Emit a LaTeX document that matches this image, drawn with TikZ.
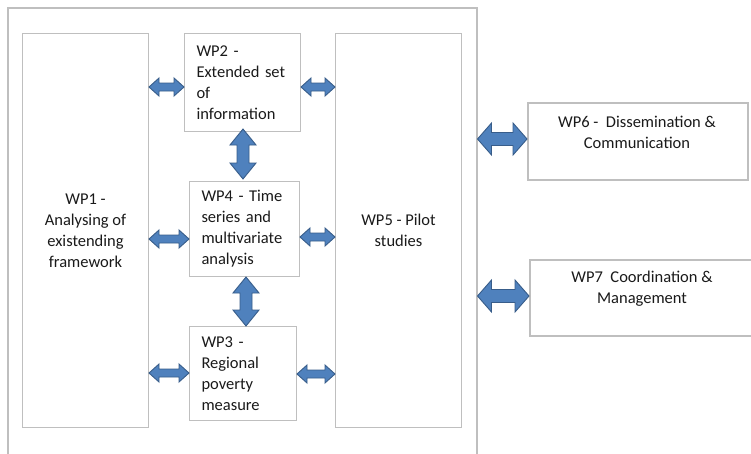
\documentclass[tikz,border=0pt]{standalone}
\usepackage{fontspec}
\setmainfont{Carlito}
\usetikzlibrary{calc}
\definecolor{arrfill}{HTML}{4F81BD}
\definecolor{arrline}{HTML}{385D8A}
\definecolor{boxline}{HTML}{BFBFBF}
\definecolor{txt}{HTML}{1A1A1A}
% horizontal double arrow: #1 left point, #2 right point, #3 head length, #4 head half-height, #5 shaft half-height
\newcommand\harr[5]{\draw[arr] let \p1=(#1), \p2=(#2) in (\x1,\y1) -- (\x1+#3,\y1+#4) -- (\x1+#3,\y1+#5) -- (\x2-#3,\y2+#5) -- (\x2-#3,\y2+#4) -- (\x2,\y2) -- (\x2-#3,\y2-#4) -- (\x2-#3,\y2-#5) -- (\x1+#3,\y1-#5) -- (\x1+#3,\y1-#4) -- cycle;}
% vertical double arrow: #1 top point, #2 bottom point
\newcommand\varr[5]{\draw[arr] let \p1=(#1), \p2=(#2) in (\x1,\y1) -- (\x1+#4,\y1-#3) -- (\x1+#5,\y1-#3) -- (\x2+#5,\y2+#3) -- (\x2+#4,\y2+#3) -- (\x2,\y2) -- (\x2-#4,\y2+#3) -- (\x2-#5,\y2+#3) -- (\x1-#5,\y1-#3) -- (\x1-#4,\y1-#3) -- cycle;}
\begin{document}
\begin{tikzpicture}[x=1pt,y=-1pt,
  font=\fontsize{16.5}{21}\selectfont,
  every node/.style={text=txt},
  box/.style={draw=boxline, line width=1pt, rectangle, inner sep=0pt},
  lbox/.style={box, align=left, inner xsep=12pt},
  cbox/.style={box, align=center},
  bigbox/.style={draw=boxline, line width=1.5pt, rectangle, inner sep=0pt},
  arr/.style={fill=arrfill, draw=arrline, line width=0.9pt, line join=miter}]
\useasboundingbox (0,0) rectangle (751,453);
\fill[white] (0,0) rectangle (751,453);

\node[bigbox, anchor=north west, minimum width=469pt, minimum height=470pt] (frame) at (7,7) {};

\node[cbox, anchor=north west, minimum width=126pt, minimum height=394pt] (wp1) at (22,33) {WP1 -\\Analysing of\\existending\\framework};
\node[lbox, anchor=north west, minimum width=116pt, minimum height=98pt, text width=92pt] (wp2) at (184,33) {WP2 -\\Extended set\\of\\information};
\node[lbox, anchor=north west, minimum width=110pt, minimum height=95pt, text width=86pt] (wp4) at (189,181) {WP4 - Time\\series and\\multivariate\\analysis};
\node[lbox, anchor=north west, minimum width=107pt, minimum height=94pt, text width=83pt] (wp3) at (189,326) {WP3 -\\Regional\\poverty\\measure};
\node[cbox, anchor=north west, minimum width=126pt, minimum height=394pt] (wp5) at (335,33) {WP5 - Pilot\\studies};

\node[bigbox, anchor=north west, minimum width=220pt, minimum height=77pt] (wp6) at (527,102) {};
\node[align=center] (t6) at (637,132) {WP6 -\ \ Dissemination \&\\Communication};
\node[bigbox, anchor=north west, minimum width=230pt, minimum height=76pt] (wp7) at (529,259) {};
\node[align=center] (t7) at (642,288.5) {WP7\ \ Coordination \&\\Management};

% connectors
\harr{wp1.east |- 0,87}{wp2.west |- 0,87}{10pt}{9pt}{4pt}
\harr{wp2.east |- 0,87}{wp5.west |- 0,87}{10pt}{9pt}{4pt}
\harr{wp1.east |- 0,239}{wp4.west |- 0,239}{10pt}{9pt}{4pt}
\harr{wp4.east |- 0,237}{wp5.west |- 0,237}{10pt}{9pt}{4pt}
\harr{wp1.east |- 0,373}{wp3.west |- 0,373}{10pt}{9pt}{4pt}
\harr{wp3.east |- 0,374}{wp5.west |- 0,374}{10pt}{9pt}{4pt}
\varr{[yshift=3pt]wp2.south -| 243,0}{[yshift=2pt]wp4.north -| 243,0}{16pt}{13pt}{6pt}
\varr{wp4.south -| 246,0}{wp3.north -| 246,0}{16pt}{13pt}{6pt}
\harr{frame.east |- 0,139}{wp6.west |- 0,139}{14pt}{16pt}{6.5pt}
\harr{frame.east |- 0,296}{wp7.west |- 0,296}{14pt}{16pt}{6.5pt}
\end{tikzpicture}
\end{document}
